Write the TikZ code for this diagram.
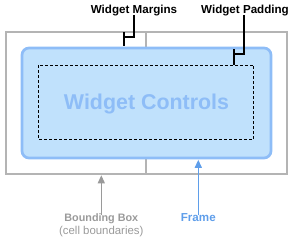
\documentclass[tikz,border=0pt]{standalone}
\usepackage{fontspec}
\setmainfont{Liberation Sans}
\usetikzlibrary{arrows.meta}

\definecolor{cellgray}{HTML}{B4B4B4}
\definecolor{notegray}{HTML}{9A9A9A}
\definecolor{framefill}{HTML}{C0E1FC}
\definecolor{frameline}{HTML}{8EBDF7}
\definecolor{framenote}{HTML}{5F9EEA}

\tikzset{
  callout/.style={font=\bfseries\fontsize{11.6}{13}\selectfont, anchor=base, inner sep=0pt},
  bracket/.style={black, line width=2pt},
  pointer/.style={line width=1.3pt, -{Triangle[width=7pt,length=8pt]}}
}

\begin{document}
\begin{tikzpicture}[x=1pt, y=-1pt, line join=miter]
  \useasboundingbox (0,0) rectangle (295,243);
  \path
  (6,32) coordinate (cellNW)
  (286.7,174.3) coordinate (cellSE)
  (146,32) coordinate (cellTop)
  (146,174.3) coordinate (cellBot)
  (22,48) coordinate (frameNW)
  (271,158) coordinate (frameSE)
  (38.7,65.3) coordinate (padNW)
  (253.7,139.7) coordinate (padSE)
  (124,36.7) coordinate (marginTick)
  (234.3,54.3) coordinate (padTick)
  (101.3,175.3) coordinate (cellEdge)
  (198.3,159.8) coordinate (frameEdge);

  % cell boundaries
  \draw[cellgray, line width=2pt] (cellNW) rectangle (cellSE) (cellTop) -- (cellBot);

  % frame and padding
  \draw[frameline, fill=framefill, line width=2.7pt, rounded corners=7pt] (frameNW) rectangle (frameSE);
  \draw[line width=1.2pt, dash pattern=on 3pt off 2pt] (padNW) rectangle (padSE);
  \node[anchor=base, inner sep=0pt, text=frameline, font=\bfseries\fontsize{21.4}{24}\selectfont] (controls) at (146.5,110) {Widget Controls};

  % callouts on top
  \node[callout] (margins) at (134,13.3) {Widget Margins};
  \node[callout] (padding) at (245,13.3) {Widget Padding};
  \draw[bracket] ([yshift=1pt]margins.south) |- (marginTick);
  \draw[bracket] (124,32.3) -- (124,45.7);
  \draw[bracket] ([xshift=-1.3pt,yshift=1pt]padding.south) |- (padTick);
  \draw[bracket] (234.3,49.3) -- (234.3,65.3);

  % labels below
  \node[callout, text=notegray, font=\bfseries\fontsize{10.8}{13}\selectfont] (bbox) at (101.3,221.3) {Bounding Box};
  \node[anchor=base, inner sep=0pt, text=notegray, font=\fontsize{11.4}{13}\selectfont] (bbnote) at (101.3,234.5) {(cell boundaries)};
  \node[callout, text=framenote] (frame) at (198.3,221.3) {Frame};
  \draw[pointer, notegray] ([yshift=-2pt]bbox.north) -- (cellEdge);
  \draw[pointer, framenote] ([yshift=-2pt]frame.north) -- (frameEdge);
\end{tikzpicture}
\end{document}
